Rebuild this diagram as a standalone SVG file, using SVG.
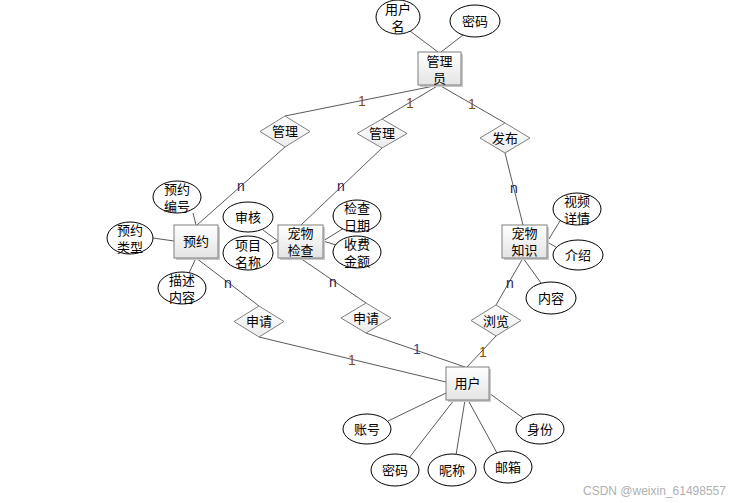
<svg xmlns="http://www.w3.org/2000/svg" width="744" height="503" viewBox="0 0 744 503">
<defs>
<linearGradient id="gBox" x1="0" y1="0" x2="0" y2="1">
<stop offset="0" stop-color="#ffffff"/>
<stop offset="1" stop-color="#e4e4e4"/>
</linearGradient>
<linearGradient id="gDia" x1="0" y1="0" x2="0" y2="1">
<stop offset="0" stop-color="#ffffff"/>
<stop offset="1" stop-color="#ececec"/>
</linearGradient>
</defs>
<style>
text{font-family:"Liberation Sans","Noto Sans CJK SC",sans-serif;font-size:13px;fill:#000;text-anchor:middle;dominant-baseline:central}
.box{fill:url(#gBox);stroke:#7f7f7f;stroke-width:1}
.shadow{fill:#c8c8c8}
.ell{fill:#fff;stroke:#000;stroke-width:1}
.dia{fill:url(#gDia);stroke:#7f7f7f;stroke-width:1}
.ln{stroke:#5a5a5a;stroke-width:1;fill:none}
.one{fill:#8a4a00;font-size:14px}
.oneb{fill:#1a4a8a;font-size:14px}
.n{fill:#301850;font-size:14px}
.wm{fill:#b0b0b0;font-size:12px;text-anchor:start}
</style>
<rect width="744" height="503" fill="#fff"/>
<g id="connectors">
<line class="ln" x1="439" y1="85" x2="285" y2="116"/>
<line class="ln" x1="439" y1="85" x2="382" y2="119"/>
<line class="ln" x1="439" y1="85" x2="505" y2="123"/>
<line class="ln" x1="285" y1="147" x2="197" y2="225"/>
<line class="ln" x1="382" y1="148" x2="301" y2="225"/>
<line class="ln" x1="505" y1="153" x2="523" y2="225"/>
<line class="ln" x1="196" y1="258" x2="259" y2="306"/>
<line class="ln" x1="259" y1="337" x2="446" y2="382"/>
<line class="ln" x1="300" y1="258" x2="366" y2="303"/>
<line class="ln" x1="366" y1="333" x2="465" y2="367"/>
<line class="ln" x1="496" y1="336" x2="467" y2="367"/>
<line class="ln" x1="523" y1="258" x2="496" y2="305"/>
<line class="ln" x1="523" y1="258" x2="541" y2="283"/>
<line class="ln" x1="547" y1="242" x2="560" y2="221"/>
<line class="ln" x1="547" y1="242" x2="556" y2="247"/>
<line class="ln" x1="278" y1="241" x2="263" y2="230"/>
<line class="ln" x1="278" y1="241" x2="271" y2="244"/>
<line class="ln" x1="323" y1="241" x2="344" y2="228"/>
<line class="ln" x1="323" y1="241" x2="336" y2="245"/>
<line class="ln" x1="174" y1="241" x2="153" y2="238"/>
<line class="ln" x1="196" y1="225" x2="193" y2="213"/>
<line class="ln" x1="196" y1="258" x2="189" y2="273"/>
<line class="ln" x1="446" y1="393" x2="388" y2="421"/>
<line class="ln" x1="454" y1="400" x2="409" y2="458"/>
<line class="ln" x1="465" y1="400" x2="456" y2="455"/>
<line class="ln" x1="468" y1="400" x2="497" y2="453"/>
<line class="ln" x1="489" y1="393" x2="523" y2="418"/>
<line class="ln" x1="438" y1="52" x2="410" y2="31"/>
<line class="ln" x1="441" y1="52" x2="463" y2="35"/>
<text class="one" x="362" y="101">1</text>
<text class="one" x="410" y="103">1</text>
<text class="one" x="472" y="104">1</text>
<text class="n" x="241" y="186">n</text>
<text class="n" x="341" y="186">n</text>
<text class="n" x="514" y="188">n</text>
<text class="n" x="228" y="283">n</text>
<text class="n" x="333" y="282">n</text>
<text class="n" x="510" y="283">n</text>
<text class="one" x="352" y="360">1</text>
<text class="oneb" x="417" y="349">1</text>
<text class="one" x="483" y="352">1</text>
</g>
<g id="admin">
<rect class="shadow" x="420" y="54" width="43" height="33"/>
<rect class="box" x="418" y="52" width="43" height="33"/>
<text x="439.5" y="60.5"><tspan x="439.5">管理</tspan><tspan x="439.5" dy="17">员</tspan></text>
</g>
<g id="admin-username">
<ellipse class="ell" cx="398" cy="17" rx="22" ry="17"/>
<text x="398" y="8.5"><tspan x="398">用户</tspan><tspan x="398" dy="17">名</tspan></text>
</g>
<g id="admin-password">
<ellipse class="ell" cx="475" cy="21" rx="25" ry="16"/>
<text x="475" y="21">密码</text>
</g>
<g id="rel-manage1">
<polygon class="dia" points="260,131.5 285,116 310,131.5 285,147"/>
<text x="285" y="131">管理</text>
</g>
<g id="rel-manage2">
<polygon class="dia" points="357,133.5 382,119 407,133.5 382,148"/>
<text x="382" y="133">管理</text>
</g>
<g id="rel-publish">
<polygon class="dia" points="480,138 505,123 530,138 505,153"/>
<text x="505" y="138">发布</text>
</g>
<g id="booking">
<rect class="shadow" x="176" y="227" width="44" height="33"/>
<rect class="box" x="174" y="225" width="44" height="33"/>
<text x="196" y="241">预约</text>
</g>
<g id="booking-no">
<ellipse class="ell" cx="177" cy="197" rx="24" ry="16"/>
<text x="177" y="188.5"><tspan x="177">预约</tspan><tspan x="177" dy="17">编号</tspan></text>
</g>
<g id="booking-type">
<ellipse class="ell" cx="130" cy="238" rx="23" ry="16"/>
<text x="130" y="229.5"><tspan x="130">预约</tspan><tspan x="130" dy="17">类型</tspan></text>
</g>
<g id="booking-desc">
<ellipse class="ell" cx="182" cy="288" rx="24" ry="16"/>
<text x="182" y="279.5"><tspan x="182">描述</tspan><tspan x="182" dy="17">内容</tspan></text>
</g>
<g id="checkup">
<rect class="shadow" x="280" y="227" width="45" height="33"/>
<rect class="box" x="278" y="225" width="45" height="33"/>
<text x="300.5" y="232.5"><tspan x="300.5">宠物</tspan><tspan x="300.5" dy="17">检查</tspan></text>
</g>
<g id="checkup-review">
<ellipse class="ell" cx="248" cy="217" rx="25" ry="15"/>
<text x="248" y="217">审核</text>
</g>
<g id="checkup-item">
<ellipse class="ell" cx="248" cy="253" rx="25" ry="17"/>
<text x="248" y="244.5"><tspan x="248">项目</tspan><tspan x="248" dy="17">名称</tspan></text>
</g>
<g id="checkup-date">
<ellipse class="ell" cx="357" cy="216" rx="24" ry="16"/>
<text x="357" y="207.5"><tspan x="357">检查</tspan><tspan x="357" dy="17">日期</tspan></text>
</g>
<g id="checkup-fee">
<ellipse class="ell" cx="357" cy="252" rx="24" ry="16"/>
<text x="357" y="243.5"><tspan x="357">收费</tspan><tspan x="357" dy="17">金额</tspan></text>
</g>
<g id="knowledge">
<rect class="shadow" x="504" y="227" width="45" height="33"/>
<rect class="box" x="502" y="225" width="45" height="33"/>
<text x="524.5" y="232.5"><tspan x="524.5">宠物</tspan><tspan x="524.5" dy="17">知识</tspan></text>
</g>
<g id="knowledge-video">
<ellipse class="ell" cx="577" cy="209" rx="24" ry="16"/>
<text x="577" y="200.5"><tspan x="577">视频</tspan><tspan x="577" dy="17">详情</tspan></text>
</g>
<g id="knowledge-intro">
<ellipse class="ell" cx="578" cy="255" rx="25" ry="15"/>
<text x="578" y="255">介绍</text>
</g>
<g id="knowledge-content">
<ellipse class="ell" cx="551" cy="298" rx="25" ry="16"/>
<text x="551" y="298">内容</text>
</g>
<g id="rel-apply1">
<polygon class="dia" points="234,321.5 259,306 284,321.5 259,337"/>
<text x="259" y="321">申请</text>
</g>
<g id="rel-apply2">
<polygon class="dia" points="341,318 366,303 391,318 366,333"/>
<text x="366" y="318">申请</text>
</g>
<g id="rel-browse">
<polygon class="dia" points="471,320.5 496,305 521,320.5 496,336"/>
<text x="496" y="321">浏览</text>
</g>
<g id="user">
<rect class="shadow" x="448" y="369" width="43" height="33"/>
<rect class="box" x="446" y="367" width="43" height="33"/>
<text x="467.5" y="383">用户</text>
</g>
<g id="user-account">
<ellipse class="ell" cx="367" cy="429" rx="24" ry="15"/>
<text x="367" y="429">账号</text>
</g>
<g id="user-password">
<ellipse class="ell" cx="395" cy="470" rx="24" ry="16"/>
<text x="395" y="470">密码</text>
</g>
<g id="user-nickname">
<ellipse class="ell" cx="452" cy="470" rx="24" ry="16"/>
<text x="452" y="470">昵称</text>
</g>
<g id="user-email">
<ellipse class="ell" cx="508" cy="467" rx="24" ry="16"/>
<text x="508" y="467">邮箱</text>
</g>
<g id="user-role">
<ellipse class="ell" cx="540" cy="429" rx="24" ry="15"/>
<text x="540" y="429">身份</text>
</g>
<text class="wm" x="583" y="491">CSDN @weixin_61498557</text>
</svg>
